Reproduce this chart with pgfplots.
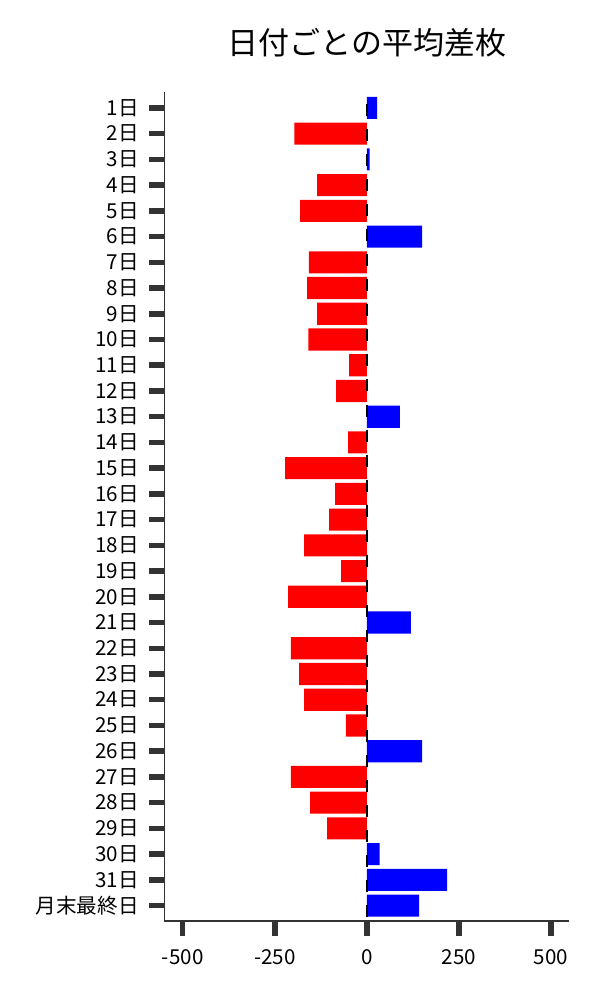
\documentclass[border=0pt]{standalone}
\usepackage{fontspec}
\setmainfont{Noto Sans CJK JP}
\usepackage{pgfplots}
\pgfplotsset{compat=1.18}

\definecolor{spinegray}{HTML}{333333}

\begin{document}
\begin{tikzpicture}[x=1pt,y=1pt]
\useasboundingbox (0,0) rectangle (600,1000);

\begin{axis}[
  at={(164.3pt,79pt)}, anchor=south west,
  scale only axis,
  width=405pt, height=828.5pt,
  xmin=-550, xmax=550,
  ymin=-0.6, ymax=31.6,
  y dir=reverse,
  axis x line*=bottom, axis y line*=left,
  axis line style={-, spinegray, line width=1.4pt},
  tick align=outside,
  major tick length=15pt,
  every tick/.style={spinegray, line width=5.5pt},
  xtick={-500,-250,0,250,500},
  xticklabels={-500,-250,0,250,500},
  ytick={0,...,31},
  yticklabels={1日,2日,3日,4日,5日,6日,7日,8日,9日,10日,11日,12日,13日,14日,15日,16日,17日,18日,19日,20日,21日,22日,23日,24日,25日,26日,27日,28日,29日,30日,31日,月末最終日},
  tick label style={font=\fontsize{20.6}{24}\selectfont},
  yticklabel style={xshift=-7pt},
  xticklabel style={yshift=-10pt},
]
% positive days
\addplot[xbar, bar shift=0pt, bar width=0.86, draw=none, fill=blue] table {
x y
28 0
8 2
150 5
90 12
120 20
150 25
35 29
218 30
142 31
};
% negative days
\addplot[xbar, bar shift=0pt, bar width=0.86, draw=none, fill=red] table {
x y
-197 1
-135 3
-181 4
-157 6
-162 7
-135 8
-159 9
-48 10
-83 11
-51 13
-222 14
-86 15
-102 16
-170 17
-70 18
-214 19
-206 21
-184 22
-170 23
-57 24
-206 26
-154 27
-108 28
};
\addplot[black, line width=2pt, dash pattern=on 12pt off 13pt, dash phase=13pt] coordinates {(0,-0.6) (0,31.6)};
\end{axis}

\node[font=\fontsize{31}{36}\selectfont] at (366.8,957.5) {日付ごとの平均差枚};
\end{tikzpicture}
\end{document}
